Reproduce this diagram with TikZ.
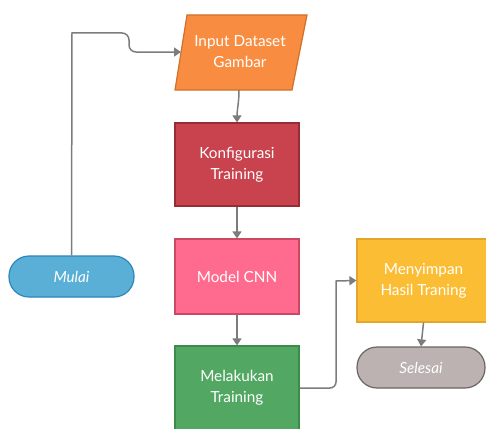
\documentclass[tikz,border=0pt]{standalone}
\usepackage{fontspec}
\setmainfont{Lato}
\usetikzlibrary{arrows.meta}
\definecolor{orF}{HTML}{F88D42}\definecolor{orD}{HTML}{D0702C}
\definecolor{reF}{HTML}{C8434E}\definecolor{reD}{HTML}{962C36}
\definecolor{piF}{HTML}{FF6B8E}\definecolor{piD}{HTML}{C94A62}
\definecolor{grF}{HTML}{52A862}\definecolor{grD}{HTML}{3D8B4B}
\definecolor{yeF}{HTML}{FBBD33}\definecolor{yeD}{HTML}{E3A62A}
\definecolor{gyF}{HTML}{BDB2B2}\definecolor{gyD}{HTML}{6B6565}
\definecolor{blF}{HTML}{5AAFD6}\definecolor{blD}{HTML}{2E87B8}
\definecolor{conC}{HTML}{7C7C7C}
\tikzset{
  txt/.style={text=white, align=center, font=\fontsize{15.3}{21}\selectfont},
  boxst/.style={txt, rectangle, line width=1.2pt, inner sep=0pt},
  termst/.style={txt, rectangle, rounded corners=20pt, line width=1.2pt, inner sep=0pt, font=\fontsize{15.3}{21}\selectfont\itshape},
  conn/.style={draw=conC, line width=1.5pt, -{Triangle[width=9pt,length=7pt]}}
}
\begin{document}
\begin{tikzpicture}[x=1pt,y=-1pt]
\useasboundingbox (0,0) rectangle (486,428);
% parallelogram
\draw[fill=orF, draw=orD, line width=1.2pt] (187,15) -- (307,15) -- (292,90) -- (175,90) -- cycle;
\node[txt] (input) at (240,52) {Input Dataset\\Gambar};
\coordinate (inbot) at (239,90);
\coordinate (inleft) at (181,52);
\node[boxst, fill=reF, draw=reD, minimum width=124pt, minimum height=83pt] (konf) at (237,164.5) {Konfigurasi\\Training};
\node[boxst, fill=piF, draw=piD, minimum width=124pt, minimum height=75pt] (model) at (237,276.5) {Model CNN};
\node[boxst, fill=grF, draw=grD, minimum width=124pt, minimum height=84pt] (melak) at (237,388) {Melakukan\\Training};
\node[boxst, fill=yeF, draw=yeD, minimum width=133pt, minimum height=83pt] (simpan) at (423.5,280.5) {Menyimpan\\Hasil Traning};
\node[termst, fill=blF, draw=blD, minimum width=125pt, minimum height=41pt] (mulai) at (71.5,276.5) {Mulai};
\node[termst, fill=gyF, draw=gyD, minimum width=128pt, minimum height=41pt] (selesai) at (421,367.5) {Selesai};
% connectors
\draw[conn] (mulai.north) -- (72,33) -- (122,33) to[out=0,in=90] (129,40) -- (129,45) to[out=-90,in=180] (136,52) -- (inleft);
\draw[conn] (inbot) to[out=-90,in=90] (konf.north);
\draw[conn] (konf.south) -- (model.north);
\draw[conn] (model.south) -- (melak.north);
\draw[conn] (melak.east) -- (330,388) to[out=0,in=-90] (336,382) -- (336,281) -- (simpan.west);
\draw[conn] (simpan.south) -- (selesai.north);
\end{tikzpicture}
\end{document}
